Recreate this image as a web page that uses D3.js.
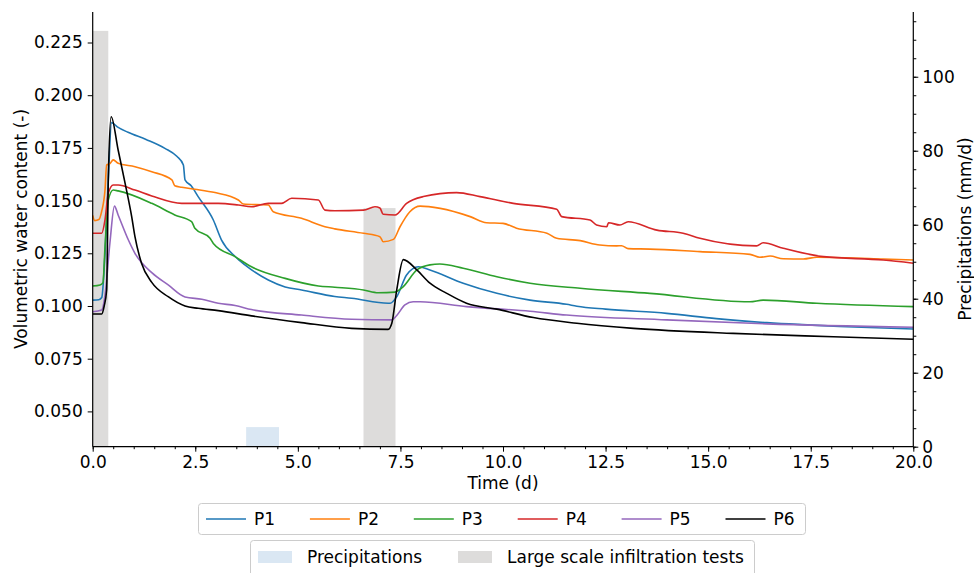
<!DOCTYPE html>
<html>
<head>
<meta charset="utf-8">
<script src="https://cdn.jsdelivr.net/npm/d3@7"></script>
<style>
  body { margin: 0; background: #fff; }
  text { font-family: "DejaVu Sans", sans-serif; fill: #000; }
</style>
</head>
<body>
<svg id="chart" width="974" height="573"></svg>
<script>
// time (d), volumetric water content (-)
const p1 = [[0,0.1028],[0.15,0.103],[0.22,0.104],[0.3,0.125],[0.38,0.16],[0.46,0.187],[0.6,0.185],[0.86,0.1824],[1.3,0.179],[1.76,0.1748],[2.05,0.171],[2.21,0.1669],[2.25,0.1598],[2.4,0.157],[2.57,0.1519],[2.94,0.1408],[3.14,0.1313],[3.47,0.1235],[3.71,0.1195],[4.28,0.1123],[4.69,0.109],[5.09,0.1076],[5.9,0.1045],[6.31,0.1037],[7.2,0.1013],[7.25,0.1013],[7.41,0.1044],[7.65,0.1147],[7.94,0.1186],[8.22,0.1171],[9.03,0.1108],[9.85,0.106],[10.66,0.1028],[11.55,0.1008],[11.8,0.0999],[12.5,0.0985],[13.99,0.0965],[15.2,0.094],[16.43,0.0921],[18.2,0.0903],[20,0.0891]];
const p2 = [[0,0.143],[0.05,0.1405],[0.15,0.141],[0.22,0.145],[0.3,0.155],[0.34,0.1669],[0.42,0.1675],[0.5,0.1693],[0.62,0.1677],[1.03,0.1661],[1.44,0.1637],[1.93,0.1598],[2.0,0.157],[2.17,0.1563],[2.49,0.1554],[2.98,0.1538],[3.55,0.1503],[3.67,0.1484],[4.28,0.1479],[4.4,0.1447],[5.09,0.1416],[5.66,0.1376],[5.9,0.1366],[6.6,0.1345],[7.0,0.1329],[7.08,0.1305],[7.33,0.1316],[7.49,0.1376],[7.73,0.1447],[7.98,0.1474],[8.47,0.1463],[9.2,0.1424],[9.6,0.1395],[10.0,0.1392],[10.33,0.1369],[11.07,0.1345],[11.31,0.1321],[11.88,0.131],[12.36,0.1289],[12.77,0.1285],[12.89,0.1286],[13.05,0.1272],[13.58,0.127],[14.8,0.1258],[16.02,0.1245],[16.26,0.1231],[16.51,0.1237],[16.83,0.1224],[17.32,0.1223],[17.65,0.1231],[19.27,0.1223],[20,0.1218]];
const p3 = [[0,0.1095],[0.18,0.11],[0.25,0.111],[0.3,0.128],[0.38,0.1503],[0.5,0.155],[0.62,0.1546],[1.44,0.1487],[2.0,0.1432],[2.41,0.14],[2.49,0.1369],[2.86,0.1321],[2.94,0.1297],[3.47,0.1234],[3.87,0.1186],[4.69,0.1131],[5.5,0.1095],[5.9,0.1089],[6.6,0.1076],[6.96,0.1063],[7.37,0.1066],[7.57,0.1092],[7.9,0.1171],[8.22,0.1195],[8.46,0.1199],[9.03,0.1179],[9.85,0.1139],[10.66,0.1108],[11.88,0.1084],[13.58,0.106],[16.02,0.102],[16.34,0.1028],[17.65,0.1013],[20,0.0997]];
const p4 = [[0,0.1345],[0.22,0.1345],[0.3,0.1408],[0.38,0.1535],[0.5,0.1574],[0.62,0.1574],[1.03,0.155],[1.44,0.1522],[2.17,0.1487],[3.06,0.1487],[3.55,0.1479],[3.87,0.1471],[4.28,0.1487],[4.6,0.1487],[4.85,0.1511],[5.5,0.1503],[5.66,0.1455],[5.9,0.1452],[6.6,0.1455],[6.88,0.1471],[7.0,0.1465],[7.08,0.1435],[7.37,0.1432],[7.65,0.1487],[8.06,0.1519],[8.87,0.1538],[9.44,0.1519],[10.25,0.1487],[11.31,0.1459],[11.43,0.1424],[12.12,0.1408],[12.28,0.1384],[12.53,0.1376],[12.57,0.1395],[12.85,0.1384],[13.05,0.14],[13.75,0.136],[14.39,0.1345],[14.8,0.1321],[16.18,0.1285],[16.34,0.13],[16.83,0.1274],[17.81,0.1234],[19.27,0.1218],[20,0.1203]];
const p5 = [[0,0.0973],[0.22,0.0981],[0.3,0.105],[0.42,0.13],[0.53,0.1474],[0.62,0.1432],[0.87,0.1313],[1.03,0.125],[1.44,0.1158],[1.84,0.11],[2.25,0.1043],[2.66,0.1032],[3.06,0.1013],[3.47,0.1002],[3.87,0.0983],[5.09,0.0957],[6.31,0.0937],[7.29,0.0934],[7.41,0.0955],[7.61,0.1005],[7.81,0.102],[7.98,0.102],[9.11,0.0997],[10.66,0.0975],[11.55,0.0957],[13.99,0.0934],[16.43,0.0915],[20,0.0899]];
const p6 = [[0,0.0962],[0.22,0.0962],[0.28,0.1],[0.34,0.1076],[0.38,0.1598],[0.45,0.1898],[0.62,0.174],[0.79,0.1582],[0.95,0.1424],[1.03,0.1329],[1.19,0.1203],[1.44,0.1112],[1.84,0.1044],[2.25,0.1],[2.57,0.0989],[3.06,0.0978],[3.87,0.0953],[5.09,0.0921],[6.31,0.0894],[7.2,0.0889],[7.29,0.0918],[7.41,0.1076],[7.57,0.122],[7.9,0.1171],[8.22,0.1108],[8.63,0.106],[9.11,0.1013],[9.85,0.0985],[10.74,0.0945],[11.8,0.0918],[13.18,0.0894],[15.61,0.087],[18.05,0.0854],[20,0.0842]];

const seriesNames = ['P1', 'P2', 'P3', 'P4', 'P5', 'P6'];
const seriesData = [p1, p2, p3, p4, p5, p6];
const seriesColors = ['#1f77b4', '#ff7f0e', '#2ca02c', '#d62728', '#9467bd', '#000000'];

// bars on the right axis (mm/d)
const testStart = [0, 6.6];
const testEnd = [0.38, 7.38];
const testValue = [112.4, 64.5];
const rainStart = [3.74];
const rainEnd = [4.54];
const rainValue = [5.3];

const xTicks = [0, 2.5, 5, 7.5, 10, 12.5, 15, 17.5, 20];
const yTicks = [0.05, 0.075, 0.1, 0.125, 0.15, 0.175, 0.2, 0.225];
const rTicks = [0, 20, 40, 60, 80, 100];

const svg = d3.select('#chart');
const plotLeft = 92.7, plotRight = 913.3, plotTop = 12, plotBottom = 446.7;

const x = d3.scaleLinear().domain([0, 20]).range([plotLeft, plotRight]);
const y = d3.scaleLinear().domain([0.03325, 0.23947]).range([plotBottom, plotTop]);
const yR = d3.scaleLinear().domain([0, 117.5]).range([plotBottom, plotTop]);

// bars
const bars = svg.append('g');
bars.selectAll('rect.test')
  .data(testStart)
  .join('rect')
  .attr('class', 'test')
  .attr('x', d => x(d))
  .attr('width', (d, i) => x(testEnd[i]) - x(d))
  .attr('y', (d, i) => yR(testValue[i]))
  .attr('height', (d, i) => yR(0) - yR(testValue[i]))
  .attr('fill', '#dddcdb');
bars.selectAll('rect.rain')
  .data(rainStart)
  .join('rect')
  .attr('class', 'rain')
  .attr('x', d => x(d))
  .attr('width', (d, i) => x(rainEnd[i]) - x(d))
  .attr('y', (d, i) => yR(rainValue[i]))
  .attr('height', (d, i) => yR(0) - yR(rainValue[i]))
  .attr('fill', '#dae7f3');

// lines
const line = d3.line().curve(d3.curveMonotoneX).x(d => x(d[0])).y(d => y(d[1]));
svg.append('g')
  .selectAll('path')
  .data(seriesData)
  .join('path')
  .attr('d', line)
  .attr('fill', 'none')
  .attr('stroke', (d, i) => seriesColors[i])
  .attr('stroke-width', 1.6)
  .attr('stroke-linejoin', 'round');

// axes
const fontSize = 17;
function styleAxis(g) {
  g.select('.domain').remove();
  g.selectAll('line').attr('stroke', '#000').attr('stroke-width', 1);
  g.selectAll('text').style('font-size', fontSize + 'px').style('font-family', 'DejaVu Sans');
}

const xMinor = d3.range(0, 20.01, 0.5);
svg.append('g')
  .attr('transform', `translate(0,${plotBottom})`)
  .call(d3.axisBottom(x).tickValues(xMinor).tickSize(2.5).tickFormat(''))
  .call(styleAxis);
svg.append('g')
  .attr('transform', `translate(0,${plotBottom})`)
  .call(d3.axisBottom(x).tickValues(xTicks).tickSize(5).tickPadding(4).tickFormat(d3.format('.1f')))
  .call(styleAxis);

svg.append('g')
  .attr('transform', `translate(${plotLeft},0)`)
  .call(d3.axisLeft(y).tickValues(yTicks).tickSize(5).tickPadding(5).tickFormat(d3.format('.3f')))
  .call(styleAxis);

const rMinor = d3.range(0, 116, 5);
svg.append('g')
  .attr('transform', `translate(${plotRight},0)`)
  .call(d3.axisRight(yR).tickValues(rMinor).tickSize(3).tickFormat(''))
  .call(styleAxis);
svg.append('g')
  .attr('transform', `translate(${plotRight},0)`)
  .call(d3.axisRight(yR).tickValues(rTicks).tickSize(5).tickPadding(4))
  .call(styleAxis);

// spines
const spines = svg.append('g').attr('stroke', '#000').attr('stroke-width', 1.2);
spines.append('line').attr('x1', plotLeft).attr('x2', plotLeft).attr('y1', plotTop).attr('y2', plotBottom);
spines.append('line').attr('x1', plotRight).attr('x2', plotRight).attr('y1', plotTop).attr('y2', plotBottom);
spines.append('line').attr('x1', plotLeft).attr('x2', plotRight).attr('y1', plotBottom).attr('y2', plotBottom);

// axis labels
svg.append('text')
  .attr('transform', 'translate(21,229) rotate(-90)')
  .attr('text-anchor', 'middle')
  .attr('dy', '0.35em')
  .style('font-size', fontSize + 'px')
  .text('Volumetric water content (-)');
svg.append('text')
  .attr('transform', 'translate(965,229) rotate(-90)')
  .attr('text-anchor', 'middle')
  .attr('dy', '0.35em')
  .style('font-size', fontSize + 'px')
  .text('Precipitations (mm/d)');
svg.append('text')
  .attr('x', (plotLeft + plotRight) / 2)
  .attr('y', 489)
  .attr('text-anchor', 'middle')
  .style('font-size', fontSize + 'px')
  .text('Time (d)');

// legend 1: lines
const leg1 = svg.append('g');
leg1.append('rect')
  .attr('x', 198.5).attr('y', 503.5).attr('width', 607).attr('height', 31)
  .attr('rx', 3).attr('fill', '#fff').attr('stroke', '#cccccc');
const item1 = leg1.selectAll('g')
  .data(seriesNames)
  .join('g')
  .attr('transform', (d, i) => `translate(${206 + i * 103.9},519)`);
item1.append('line')
  .attr('x1', 0).attr('x2', 40)
  .attr('stroke', (d, i) => seriesColors[i])
  .attr('stroke-width', 1.6);
item1.append('text')
  .attr('x', 48).attr('dy', '0.35em')
  .style('font-size', fontSize + 'px')
  .text(d => d);

// legend 2: patches
const patchNames = ['Precipitations', 'Large scale infiltration tests'];
const patchColors = ['#dae7f3', '#dddcdb'];
const patchX = [258, 458];
const leg2 = svg.append('g');
leg2.append('rect')
  .attr('x', 250.5).attr('y', 540.5).attr('width', 504).attr('height', 40)
  .attr('rx', 3).attr('fill', '#fff').attr('stroke', '#cccccc');
const item2 = leg2.selectAll('g')
  .data(patchNames)
  .join('g')
  .attr('transform', (d, i) => `translate(${patchX[i]},557)`);
item2.append('rect')
  .attr('x', 0).attr('y', -6).attr('width', 34).attr('height', 12)
  .attr('fill', (d, i) => patchColors[i]);
item2.append('text')
  .attr('x', 49).attr('dy', '0.35em')
  .style('font-size', fontSize + 'px')
  .text(d => d);
</script>
</body>
</html>
